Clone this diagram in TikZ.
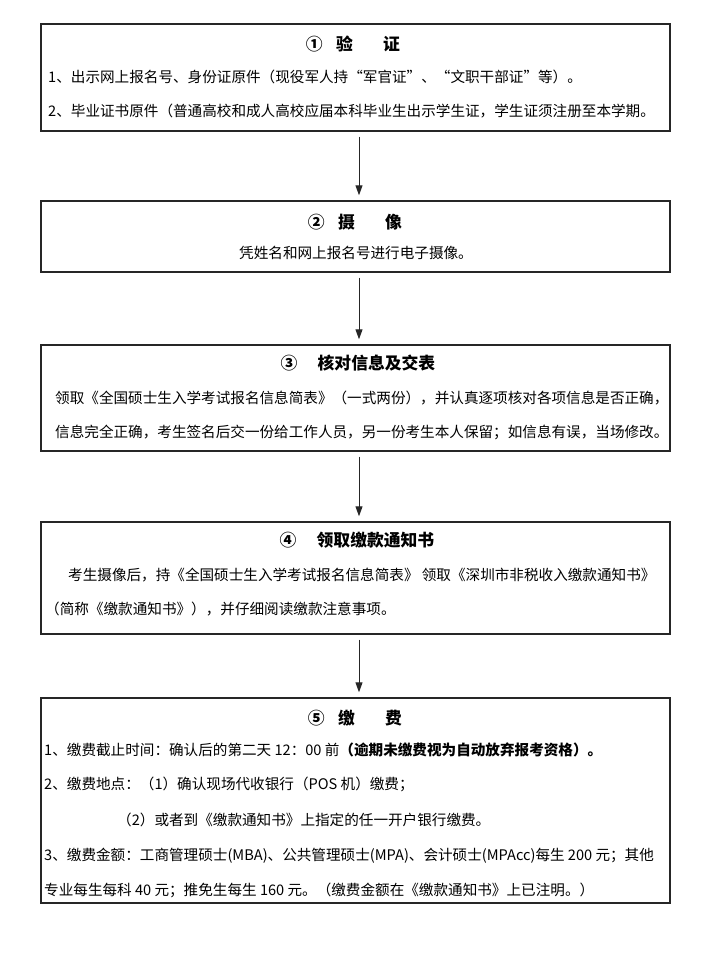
\documentclass[tikz,border=0pt]{standalone}
\usepackage{fontspec}
\setmainfont{Noto Sans CJK SC}
\usetikzlibrary{arrows.meta}
\begin{document}
\begin{tikzpicture}[x=1pt,y=-1pt,
  box/.style={draw=black!85,line width=1.4pt,minimum width=629pt,inner sep=0pt},
  ttl/.style={font=\fontsize{16.8}{18}\selectfont\bfseries,inner sep=0pt},
  txt/.style={font=\fontsize{14.6}{16}\selectfont,inner sep=0pt,anchor=west},
  ctxt/.style={font=\fontsize{14.6}{16}\selectfont,inner sep=0pt},
  arr/.style={draw=black!85,line width=1pt,-{Triangle[length=10pt,width=7pt]},shorten <=5pt,shorten >=5pt}]
\useasboundingbox (0,0) rectangle (720,960);
% boxes
\node[box,minimum height=107pt] (b1) at (355.5,77.5) {};
\node[box,minimum height=71pt]  (b2) at (355.5,236.5) {};
\node[box,minimum height=106pt] (b3) at (355.5,398) {};
\node[box,minimum height=112pt] (b4) at (355.5,578) {};
\node[box,minimum height=205pt] (b5) at (355.5,800.5) {};
% arrows
\draw[arr] ([xshift=3.5pt]b1.south) -- ([xshift=3.5pt]b2.north);
\draw[arr] ([xshift=3.5pt]b2.south) -- ([xshift=3.5pt]b3.north);
\draw[arr] ([xshift=3.5pt]b3.south) -- ([xshift=3.5pt]b4.north);
\draw[arr] ([xshift=3.5pt]b4.south) -- ([xshift=3.5pt]b5.north);
% box 1
\node[ttl] (t1) at (353,44) {①\hspace{0.8em}验\hspace{1.8em}证};
\node[txt] (l11) at (48,77) {1、出示网上报名号、身份证原件（现役军人持“军官证”、“文职干部证”等）。};
\node[txt] (l12) at (48,111) {2、毕业证书原件（普通高校和成人高校应届本科毕业生出示学生证，学生证须注册至本学期。};
% box 2
\node[ttl] (t2) at (355,222) {②\hspace{0.8em}摄\hspace{1.8em}像};
\node[ctxt] (l21) at (356,253) {凭姓名和网上报名号进行电子摄像。};
% box 3
\node[ttl] (t3) at (358,363) {③\hspace{1.2em}核对信息及交表};
\node[txt] (l31) at (55,398) {领取《全国硕士生入学考试报名信息简表》（一式两份），并认真逐项核对各项信息是否正确，};
\node[txt] (l32) at (55,432) {信息完全正确，考生签名后交一份给工作人员，另一份考生本人保留；如信息有误，当场修改。};
% box 4
\node[ttl] (t4) at (357,540) {④\hspace{1.2em}领取缴款通知书};
\node[txt] (l41) at (68,575) {考生摄像后，持《全国硕士生入学考试报名信息简表》 领取《深圳市非税收入缴款通知书》};
\node[txt] (l42) at (45,609) {（简称《缴款通知书》），并仔细阅读缴款注意事项。};
% box 5
\node[ttl] (t5) at (355,718) {⑤\hspace{0.8em}缴\hspace{1.8em}费};
\node[txt] (l51) at (44,750) {1、缴费截止时间：确认后的第二天 12：00 前{\bfseries（逾期未缴费视为自动放弃报考资格）。}};
\node[txt] (l52) at (44,784) {2、缴费地点：（1）确认现场代收银行（POS 机）缴费；};
\node[txt] (l53) at (117,820) {（2）或者到《缴款通知书》上指定的任一开户银行缴费。};
\node[txt] (l54) at (44,856) {3、缴费金额：工商管理硕士(MBA)、公共管理硕士(MPA)、会计硕士(MPAcc)每生 200 元；其他};
\node[txt] (l55) at (44,890) {专业每生每科 40 元；推免生每生 160 元。（缴费金额在《缴款通知书》上已注明。）};
\end{tikzpicture}
\end{document}
